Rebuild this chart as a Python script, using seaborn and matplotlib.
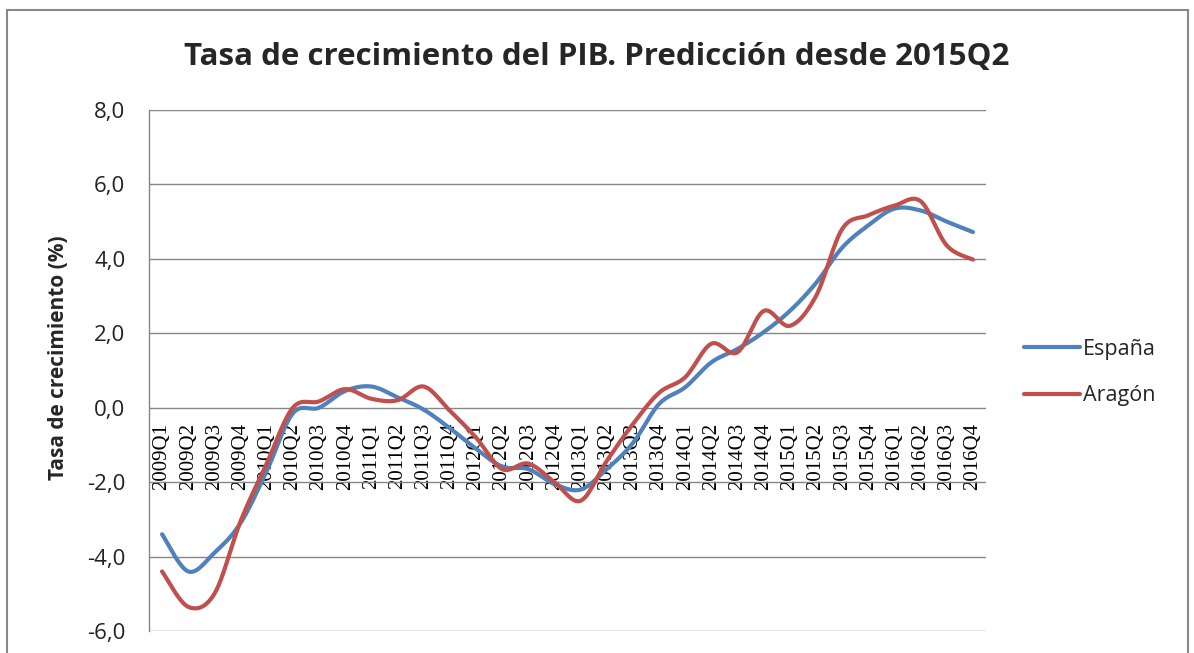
import numpy as np
import pandas as pd
import seaborn as sns
import matplotlib.pyplot as plt
from matplotlib.patches import Rectangle

# Datos (tasa de crecimiento del PIB, %)
trimestres = [f"{a}Q{q}" for a in range(2009, 2017) for q in range(1, 5)]
espana = [-3.4, -4.4, -3.9, -3.1, -1.7, -0.15, 0.0, 0.45, 0.57, 0.28, -0.05, -0.55,
          -1.1, -1.58, -1.65, -2.05, -2.2, -1.65, -0.95, 0.1, 0.55, 1.22, 1.58, 2.03,
          2.6, 3.35, 4.3, 4.9, 5.35, 5.3, 5.0, 4.72]
aragon = [-4.4, -5.35, -5.0, -3.05, -1.5, 0.0, 0.17, 0.5, 0.24, 0.2, 0.57, -0.08,
          -0.8, -1.65, -1.5, -2.0, -2.5, -1.43, -0.44, 0.4, 0.82, 1.72, 1.49, 2.6,
          2.2, 3.0, 4.8, 5.17, 5.43, 5.55, 4.36, 3.98]
series = {"España": espana, "Aragón": aragon}
colores = {"España": "#4F81BD", "Aragón": "#C0504D"}
y_ticks = [-6, -4, -2, 0, 2, 4, 6, 8]


def suavizar(valores, pasos=16):
    # linea suavizada tipo Excel (Catmull-Rom) solo para dibujar
    x = np.arange(len(valores), dtype=float)
    y = np.asarray(valores, dtype=float)
    px = np.concatenate([[x[0]], x, [x[-1]]])
    py = np.concatenate([[y[0]], y, [y[-1]]])
    t = np.linspace(0, 1, pasos, endpoint=False)
    xs, ys = [], []
    for i in range(1, len(px) - 2):
        for p, out in ((px, xs), (py, ys)):
            p0, p1, p2, p3 = p[i - 1], p[i], p[i + 1], p[i + 2]
            out.extend(0.5 * (2 * p1 + (-p0 + p2) * t + (2 * p0 - 5 * p1 + 4 * p2 - p3) * t**2
                              + (-p0 + 3 * p1 - 3 * p2 + p3) * t**3))
    xs.append(x[-1])
    ys.append(y[-1])
    return xs, ys


filas = []
for nombre, vals in series.items():
    xs, ys = suavizar(vals)
    for xi, yi in zip(xs, ys):
        filas.append({"x": xi, "valor": yi, "serie": nombre})
df = pd.DataFrame(filas)

sns.set_theme(style="white")
plt.rcParams["font.family"] = ["Open Sans", "DejaVu Sans"]

fig = plt.figure(figsize=(11.94, 6.53), dpi=100)
ax = fig.add_axes([149 / 1194, 22 / 653, 837 / 1194, 521 / 653])

sns.lineplot(data=df, x="x", y="valor", hue="serie", palette=colores, sort=False,
             estimator=None, linewidth=3, ax=ax, solid_capstyle="round")

# eje horizontal cruzando en 0 (antes de poner etiquetas)
ax.spines["bottom"].set_position(("data", 0))
ax.spines["bottom"].set_visible(False)
ax.spines["top"].set_visible(False)
ax.spines["right"].set_visible(False)
ax.spines["left"].set_color("#868686")
ax.spines["left"].set_linewidth(1)

ax.set_xlim(-0.5, len(trimestres) - 0.5)
ax.set_ylim(-6, 8)
ax.set_yticks(y_ticks)
ax.set_yticklabels([f"{v:.1f}".replace(".", ",") for v in y_ticks], fontsize=16, color="#222222")
ax.set_xticks(range(len(trimestres)))
ax.set_xticklabels(trimestres, fontsize=15, family="Liberation Serif", color="black")
ax.tick_params(axis="x", length=0, pad=11, labelrotation=90)
ax.tick_params(axis="y", length=0, pad=17)
ax.grid(axis="y", color="#868686", linewidth=1)
ax.set_axisbelow(True)

ax.set_xlabel("")
ax.set_ylabel("Tasa de crecimiento (%)", fontsize=15, fontweight="bold")
ax.yaxis.set_label_coords(-0.095, 0.524)

handles, labels = ax.get_legend_handles_labels()
for h in handles:
    h.set_solid_capstyle("round")
ax.legend(handles, labels, loc="upper left", bbox_to_anchor=(1024 / 1194, 1 - 339 / 653),
          bbox_transform=fig.transFigure, frameon=False, fontsize=15.5, borderpad=0,
          borderaxespad=0, handlelength=2.6, handletextpad=0.15, labelspacing=1.17)

fig.text(0.5, 1 - 57 / 653, "Tasa de crecimiento del PIB. Predicción desde 2015Q2",
         ha="center", va="center", fontsize=22.5, fontweight="bold")

# marco del area del grafico
fig.add_artist(Rectangle((7 / 1194, -0.1), 1181 / 1194, 1.1 - 10 / 653,
                         transform=fig.transFigure, fill=False, edgecolor="#888888",
                         linewidth=1.5))

fig.savefig("out.png", dpi=100)
